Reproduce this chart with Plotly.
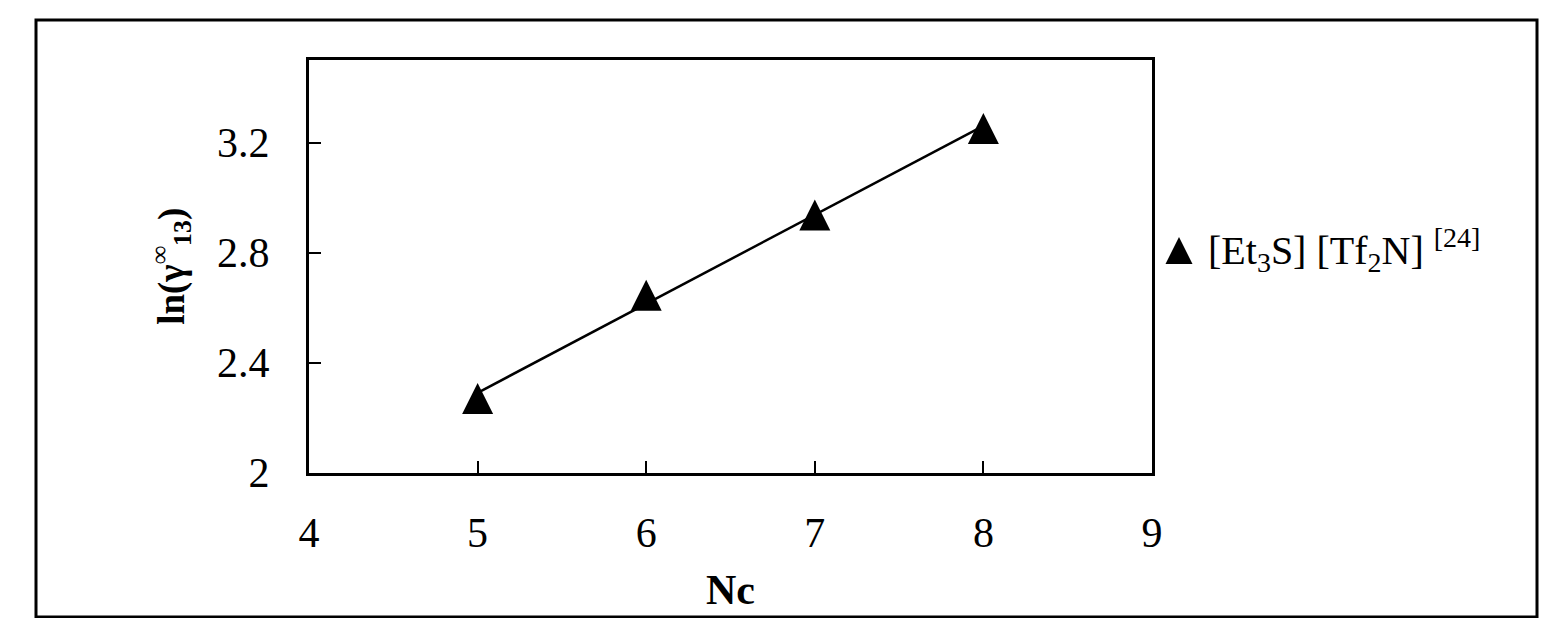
import numpy as np
import plotly.graph_objects as go

# Data
nc = [5, 6, 7, 8]
ln_gamma = [2.269, 2.645, 2.936, 3.251]
series_name = "[Et<sub>3</sub>S] [Tf<sub>2</sub>N] <sup>[24]</sup>"
x_ticks = [4, 5, 6, 7, 8, 9]
y_ticks = [2, 2.4, 2.8, 3.2]
y_tick_text = ["2", "2.4", "2.8", "3.2"]

W, H = 1549, 618
FONT = "Liberation Serif"

# linear trendline (as in the original spreadsheet chart)
slope, intercept = np.polyfit(nc, ln_gamma, 1)
fit_x = [nc[0], nc[-1]]
fit_y = [slope * v + intercept for v in fit_x]

fig = go.Figure()
fig.add_trace(go.Scatter(
    x=fit_x, y=fit_y, mode="lines",
    line=dict(color="black", width=2.5), showlegend=False, hoverinfo="skip"))
fig.add_trace(go.Scatter(
    x=nc, y=ln_gamma, mode="markers", showlegend=False, cliponaxis=False,
    marker=dict(symbol="arrow-down", angle=180, standoff=15.5, size=31,
                color="black", line=dict(width=0))))

# legend swatch on a hidden helper axis
fig.add_trace(go.Scatter(
    x=[0], y=[0], mode="markers", xaxis="x2", yaxis="y2", showlegend=False,
    cliponaxis=False, hoverinfo="skip",
    marker=dict(symbol="arrow-down", angle=180, standoff=13.5, size=27,
                color="black", line=dict(width=0))))

x0, x1 = 309 / W, 1152 / W
y0, y1 = 1 - 472.5 / H, 1 - 60 / H

axis_common = dict(showline=True, linecolor="black", linewidth=3, mirror=True,
                   ticks="inside", ticklen=12, tickwidth=2, tickcolor="black",
                   showgrid=False, zeroline=False, automargin=False,
                   tickfont=dict(family=FONT, size=42, color="black"))

fig.update_layout(
    template="none",
    width=W, height=H,
    margin=dict(l=0, r=0, t=0, b=0, pad=0, autoexpand=False),
    paper_bgcolor="white", plot_bgcolor="white",
    showlegend=False,
    xaxis=dict(domain=[x0, x1], range=[4, 9], tickvals=x_ticks,
               ticklabelstandoff=21,
               title=dict(text="<b>Nc</b>", font=dict(family=FONT, size=42, color="black"),
                          standoff=20),
               **axis_common),
    yaxis=dict(domain=[y0, y1], range=[2, 3.5], tickvals=y_ticks, ticktext=y_tick_text,
               ticklabelstandoff=28,
               title=dict(text="<b>ln(γ<sup>∞</sup><sub>13</sub>)</b>",
                          font=dict(family=FONT, size=37, color="black"),
                          standoff=22),
               **axis_common),
    xaxis2=dict(domain=[1165 / W, 1193 / W], range=[-1, 1], visible=False,
                anchor="y2", automargin=False),
    yaxis2=dict(domain=[1 - 264 / H, 1 - 237 / H], range=[-1, 1], visible=False,
                anchor="x2", automargin=False),
)

fig.add_annotation(
    xref="paper", yref="paper", x=1206 / W, y=1 - 250 / H,
    xanchor="left", yanchor="middle", showarrow=False,
    text=series_name, font=dict(family=FONT, size=40, color="black"))

# outer chart border
fig.add_shape(type="rect", xref="paper", yref="paper",
              x0=36 / W, x1=1537 / W, y0=1 - 617 / H, y1=1 - 20 / H,
              line=dict(color="black", width=3), fillcolor="rgba(0,0,0,0)", layer="below")

fig.write_html("out.html")
